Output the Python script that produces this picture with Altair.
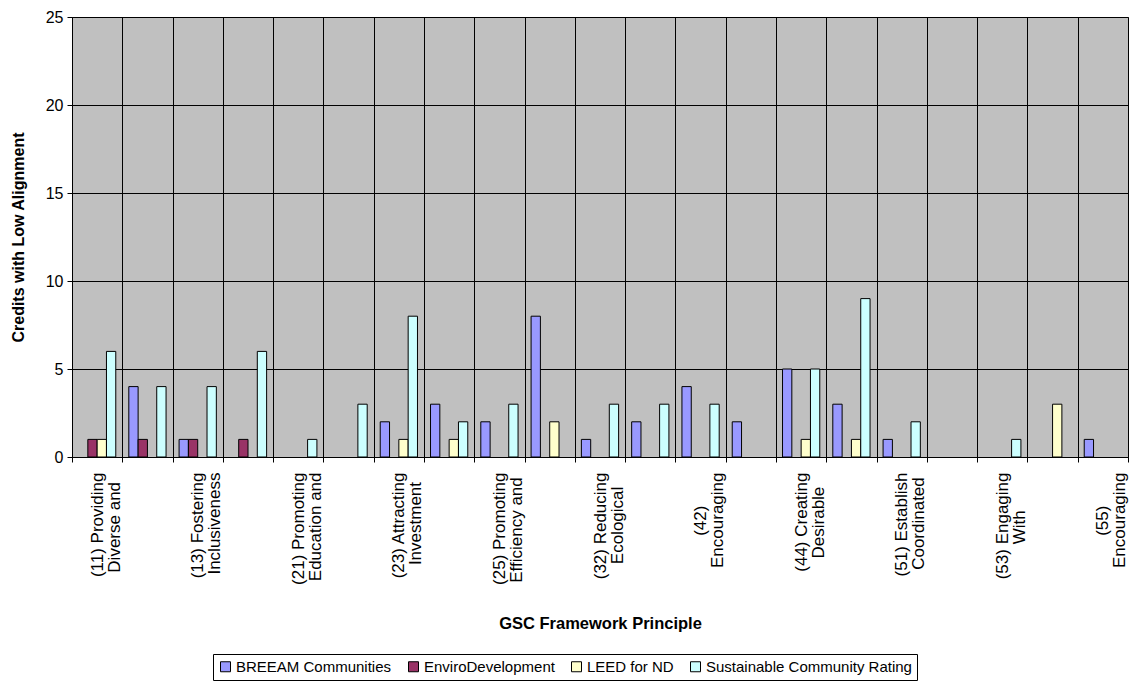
import altair as alt
import pandas as pd

codes = ["(11)", "(12)", "(13)", "(14)", "(21)", "(22)", "(23)", "(24)", "(25)", "(31)",
         "(32)", "(41)", "(42)", "(43)", "(44)", "(45)", "(51)", "(52)", "(53)", "(54)", "(55)"]

shown_labels = {
    "(11)": ["(11) Providing", "Diverse and"],
    "(13)": ["(13) Fostering", "Inclusiveness"],
    "(21)": ["(21) Promoting", "Education and"],
    "(23)": ["(23) Attracting", "Investment"],
    "(25)": ["(25) Promoting", "Efficiency and"],
    "(32)": ["(32) Reducing", "Ecological"],
    "(42)": ["(42)", "Encouraging"],
    "(44)": ["(44) Creating", "Desirable"],
    "(51)": ["(51) Establish", "Coordinated"],
    "(53)": ["(53) Engaging", "With"],
    "(55)": ["(55)", "Encouraging"],
}

series = ["BREEAM Communities", "EnviroDevelopment", "LEED for ND", "Sustainable Community Rating"]
colors = ["#9999FF", "#993366", "#FFFFCC", "#CCFFFF"]

breeam = [0, 4, 1, 0, 0, 0, 2, 3, 2, 8, 1, 2, 4, 2, 5, 3, 1, 0, 0, 0, 1]
enviro = [1, 1, 1, 1, 0, 0, 0, 0, 0, 0, 0, 0, 0, 0, 0, 0, 0, 0, 0, 0, 0]
leed = [1, 0, 0, 0, 0, 0, 1, 1, 0, 2, 0, 0, 0, 0, 1, 1, 0, 0, 0, 3, 0]
scr = [6, 4, 4, 6, 1, 3, 8, 2, 3, 0, 3, 3, 3, 0, 5, 9, 2, 0, 1, 0, 0]

rows = []
for s, vals in zip(series, [breeam, enviro, leed, scr]):
    for c, v in zip(codes, vals):
        if v > 0:
            rows.append({"principle": c, "rating": s, "credits": v})
df = pd.DataFrame(rows)

# approximate Arial/Liberation Sans advance widths (em) to centre the label lines
W = {"(": .333, ")": .333, " ": .278, "a": .556, "b": .556, "c": .5, "d": .556, "e": .556,
     "f": .278, "g": .556, "h": .556, "i": .222, "j": .222, "k": .5, "l": .222, "m": .833,
     "n": .556, "o": .556, "p": .556, "q": .556, "r": .333, "s": .5, "t": .278, "u": .556,
     "v": .5, "w": .722, "x": .5, "y": .5, "z": .5, "A": .667, "C": .722, "D": .722,
     "E": .667, "F": .611, "I": .278, "P": .667, "R": .722, "W": .944}
NBSP = "\u00a0"
ZWSP = "\u200b"


def width(t):
    return sum(W.get(ch, .556) for ch in t)


def centred(lines):
    m = max(width(t) for t in lines)
    out = []
    for t in lines:
        n = int(round((m - width(t)) / 2 / W[" "]))
        out.append(t + NBSP * n + (ZWSP if n else ""))
    return out


def q(t):
    return "'" + t.replace("'", "\\'") + "'"


expr = "''"
for c in reversed(codes):
    if c in shown_labels:
        arr = "[" + ",".join(q(t) for t in centred(shown_labels[c])) + "]"
        expr = f"datum.value == {q(c)} ? {arr} : ({expr})"

font = "Liberation Sans"

chart = alt.Chart(df).mark_bar(stroke="#000000", strokeWidth=1).encode(
    x=alt.X("principle:N", sort=codes,
            scale=alt.Scale(domain=codes, paddingInner=0, paddingOuter=0),
            axis=alt.Axis(title="GSC Framework Principle", labelExpr=expr, labelAngle=270,
                          labelAlign="right", labelBaseline="middle",
                          labelFontSize=17, labelLineHeight=17, labelPadding=10,
                          labelLimit=0, labelOverlap=False, labelColor="#000000",
                          tickBand="extent", tickSize=5, tickColor="#000000",
                          grid=True, gridColor="#000000", gridWidth=1,
                          domainColor="#000000",
                          titleFontSize=16.5, titleFontWeight="bold", titleY=166,
                          titleBaseline="middle", titleColor="#000000")),
    xOffset=alt.XOffset("rating:N", sort=series,
                        scale=alt.Scale(domain=series, paddingInner=0, paddingOuter=0.7)),
    y=alt.Y("credits:Q", scale=alt.Scale(domain=[0, 25], nice=False),
            axis=alt.Axis(title="Credits with Low Alignment", values=[0, 5, 10, 15, 20, 25],
                          labelFontSize=16, labelPadding=4, labelColor="#000000",
                          tickSize=5, tickColor="#000000", domainColor="#000000",
                          grid=True, gridColor="#000000", gridWidth=1,
                          titleFontSize=16, titleFontWeight="bold", titleColor="#000000",
                          titleX=-54, titleY=220, titleAngle=270, titleAlign="center",
                          titleBaseline="middle")),
    color=alt.Color("rating:N", sort=series,
                    scale=alt.Scale(domain=series, range=colors),
                    legend=alt.Legend(title=None, orient="none", legendX=141, legendY=637,
                                      direction="horizontal", columns=4,
                                      symbolType="square", symbolSize=100,
                                      symbolStrokeColor="#000000", symbolStrokeWidth=1,
                                      labelFontSize=15, labelColor="#000000", labelOffset=3,
                                      labelLimit=0, columnPadding=14, padding=5,
                                      strokeColor="#000000", fillColor="#FFFFFF")),
).properties(
    width=1056, height=440,
    autosize=alt.AutoSizeParams(type="none"),
    padding={"left": 72, "top": 17, "right": 3, "bottom": 226},
    background="#FFFFFF",
).configure(font=font).configure_view(
    fill="#C0C0C0", stroke="#808080", strokeWidth=1
)

chart.save("out.html", embed_options={"renderer": "svg", "actions": False})
